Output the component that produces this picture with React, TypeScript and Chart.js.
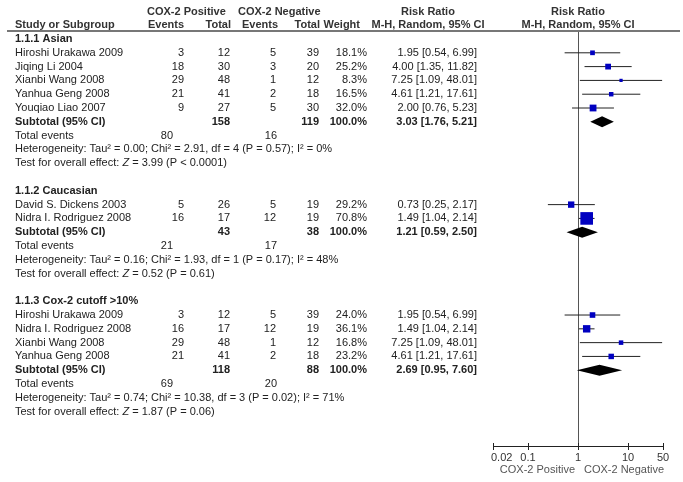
import { useEffect, useRef } from 'react';
import { Chart, registerables } from 'chart.js';

Chart.register(...registerables);

// ---------- data ----------
const groupTitles = ['1.1.1 Asian', '1.1.2 Caucasian', '1.1.3 Cox-2 cutoff >10%'];

const studyGroup = [0, 0, 0, 0, 0, 1, 1, 2, 2, 2, 2];
const studyNames = [
  'Hiroshi Urakawa 2009', 'Jiqing Li 2004', 'Xianbi Wang 2008', 'Yanhua Geng 2008', 'Youqiao Liao 2007',
  'David S. Dickens 2003', 'Nidra I. Rodriguez 2008',
  'Hiroshi Urakawa 2009', 'Nidra I. Rodriguez 2008', 'Xianbi Wang 2008', 'Yanhua Geng 2008',
];
const posEvents = [3, 18, 29, 21, 9, 5, 16, 3, 16, 29, 21];
const posTotal = [12, 30, 48, 41, 27, 26, 17, 12, 17, 48, 41];
const negEvents = [5, 3, 1, 2, 5, 5, 12, 5, 12, 1, 2];
const negTotal = [39, 20, 12, 18, 30, 19, 19, 39, 19, 12, 18];
const weights = [18.1, 25.2, 8.3, 16.5, 32.0, 29.2, 70.8, 24.0, 36.1, 16.8, 23.2];
const rr = [1.95, 4.0, 7.25, 4.61, 2.0, 0.73, 1.49, 1.95, 1.49, 7.25, 4.61];
const rrLow = [0.54, 1.35, 1.09, 1.21, 0.76, 0.25, 1.04, 0.54, 1.04, 1.09, 1.21];
const rrHigh = [6.99, 11.82, 48.01, 17.61, 5.23, 2.17, 2.14, 6.99, 2.14, 48.01, 17.61];

const subPosTotal = [158, 43, 118];
const subNegTotal = [119, 38, 88];
const subRR = [3.03, 1.21, 2.69];
const subLow = [1.76, 0.59, 0.95];
const subHigh = [5.21, 2.5, 7.6];
const evPos = [80, 21, 69];
const evNeg = [16, 17, 20];
const hetTau2 = ['0.00', '0.16', '0.74'];
const hetChi2 = ['2.91', '1.93', '10.38'];
const hetDf = [4, 1, 3];
const hetP = ['0.57', '0.17', '0.02'];
const hetI2 = ['0%', '48%', '71%'];
const testZ = ['3.99', '0.52', '1.87'];
const testP = ['P < 0.0001', 'P = 0.61', 'P = 0.06'];

const axisTicks = [0.02, 0.1, 1, 10, 50];
const axisTickLabels = ['0.02', '0.1', '1', '10', '50'];

// ---------- row layout ----------
type Row = { kind: string; idx: number; row: number };
function buildRows(): Row[] {
  const rows: Row[] = [];
  let r = 0;
  groupTitles.forEach((_, g) => {
    rows.push({ kind: 'title', idx: g, row: r++ });
    studyGroup.forEach((sg, i) => {
      if (sg === g) rows.push({ kind: 'study', idx: i, row: r++ });
    });
    rows.push({ kind: 'subtotal', idx: g, row: r++ });
    rows.push({ kind: 'events', idx: g, row: r++ });
    rows.push({ kind: 'het', idx: g, row: r++ });
    rows.push({ kind: 'test', idx: g, row: r++ });
    r++;
  });
  return rows;
}

const FONT = '"Liberation Sans", Arial, sans-serif';

export default function App() {
  const ref = useRef<HTMLCanvasElement | null>(null);

  useEffect(() => {
    document.body.style.margin = '0';
    const canvas = ref.current;
    if (!canvas) return;
    const rows = buildRows();
    const studyRows = rows.filter((r) => r.kind === 'study');
    const subRows = rows.filter((r) => r.kind === 'subtotal');

    const whiskerSets: any[] = studyRows.map((r) => ({
      label: 'ci' + r.idx,
      data: [
        { x: rrLow[r.idx], y: r.row },
        { x: rrHigh[r.idx], y: r.row },
      ],
      showLine: true,
      borderColor: '#222',
      borderWidth: 1,
      pointRadius: 0,
      order: 1,
      clip: false,
    }));

    const tablePlugin = {
      id: 'forestTable',
      beforeDatasetsDraw(chart: any) {
        const ctx = chart.ctx as CanvasRenderingContext2D;
        const xs = chart.scales.x;
        const area = chart.chartArea;
        const x1 = Math.round(xs.getPixelForValue(1)) + 0.5;
        ctx.save();
        ctx.strokeStyle = '#555';
        ctx.lineWidth = 1;
        ctx.beginPath();
        ctx.moveTo(x1, area.top);
        ctx.lineTo(x1, area.bottom);
        ctx.stroke();
        ctx.restore();
      },
      afterDatasetsDraw(chart: any) {
        const ctx = chart.ctx as CanvasRenderingContext2D;
        const xs = chart.scales.x;
        const ys = chart.scales.y;
        ctx.save();
        ctx.fillStyle = '#000';
        subRows.forEach((r) => {
          const g = r.idx;
          const y = ys.getPixelForValue(r.row);
          const xl = xs.getPixelForValue(subLow[g]);
          const xm = xs.getPixelForValue(subRR[g]);
          const xh = xs.getPixelForValue(subHigh[g]);
          ctx.beginPath();
          ctx.moveTo(xl, y);
          ctx.lineTo(xm, y - 5.5);
          ctx.lineTo(xh, y);
          ctx.lineTo(xm, y + 5.5);
          ctx.closePath();
          ctx.fill();
        });
        ctx.restore();
      },
      afterDraw(chart: any) {
        const ctx = chart.ctx as CanvasRenderingContext2D;
        const xs = chart.scales.x;
        const ys = chart.scales.y;
        const area = chart.chartArea;
        const txt = (s: string, x: number, y: number, align: CanvasTextAlign, bold = false, color = '#222', italic = false) => {
          ctx.font = `${italic ? 'italic ' : ''}${bold ? 'bold ' : ''}11px ${FONT}`;
          ctx.fillStyle = color;
          ctx.textAlign = align;
          ctx.textBaseline = 'middle';
          ctx.fillText(s, x, y);
          return ctx.measureText(s).width;
        };
        ctx.save();
        const xOne = xs.getPixelForValue(1);
        // headers
        const h1 = ys.getPixelForValue(-1.97);
        const h2 = ys.getPixelForValue(-1.0);
        txt('COX-2 Positive', 147, h1, 'left', true, '#333');
        txt('COX-2 Negative', 238, h1, 'left', true, '#333');
        txt('Risk Ratio', 428, h1, 'center', true, '#333');
        txt('Risk Ratio', xOne, h1, 'center', true, '#333');
        txt('Study or Subgroup', 15, h2, 'left', true, '#333');
        txt('Events', 184, h2, 'right', true, '#333');
        txt('Total', 231, h2, 'right', true, '#333');
        txt('Events', 278, h2, 'right', true, '#333');
        txt('Total', 320, h2, 'right', true, '#333');
        txt('Weight', 360, h2, 'right', true, '#333');
        txt('M-H, Random, 95% CI', 428, h2, 'center', true, '#333');
        txt('M-H, Random, 95% CI', xOne, h2, 'center', true, '#333');
        // header rule
        ctx.fillStyle = '#777';
        ctx.fillRect(7, area.top - 1, 673, 2);

        rows.forEach((r) => {
          const y = ys.getPixelForValue(r.row);
          const i = r.idx;
          if (r.kind === 'title') {
            txt(groupTitles[i], 15, y, 'left', true);
          } else if (r.kind === 'study') {
            txt(studyNames[i], 15, y, 'left');
            txt(String(posEvents[i]), 184, y, 'right');
            txt(String(posTotal[i]), 230, y, 'right');
            txt(String(negEvents[i]), 276, y, 'right');
            txt(String(negTotal[i]), 319, y, 'right');
            txt(weights[i].toFixed(1) + '%', 367, y, 'right');
            txt(`${rr[i].toFixed(2)} [${rrLow[i].toFixed(2)}, ${rrHigh[i].toFixed(2)}]`, 477, y, 'right');
          } else if (r.kind === 'subtotal') {
            txt('Subtotal (95% CI)', 15, y, 'left', true);
            txt(String(subPosTotal[i]), 230, y, 'right', true);
            txt(String(subNegTotal[i]), 319, y, 'right', true);
            txt('100.0%', 367, y, 'right', true);
            txt(`${subRR[i].toFixed(2)} [${subLow[i].toFixed(2)}, ${subHigh[i].toFixed(2)}]`, 477, y, 'right', true);
          } else if (r.kind === 'events') {
            txt('Total events', 15, y, 'left');
            txt(String(evPos[i]), 173, y, 'right');
            txt(String(evNeg[i]), 277, y, 'right');
          } else if (r.kind === 'het') {
            txt(`Heterogeneity: Tau\u00b2 = ${hetTau2[i]}; Chi\u00b2 = ${hetChi2[i]}, df = ${hetDf[i]} (P = ${hetP[i]}); I\u00b2 = ${hetI2[i]}`, 15, y, 'left');
          } else if (r.kind === 'test') {
            let x = 15;
            x += txt('Test for overall effect: ', x, y, 'left');
            x += txt('Z', x, y, 'left', false, '#222', true);
            txt(` = ${testZ[i]} (${testP[i]})`, x, y, 'left');
          }
        });

        // x axis
        const ay = area.bottom + 0.5;
        const xa = xs.getPixelForValue(axisTicks[0]);
        const xb = xs.getPixelForValue(axisTicks[axisTicks.length - 1]);
        ctx.strokeStyle = '#222';
        ctx.lineWidth = 1;
        ctx.beginPath();
        ctx.moveTo(xa, ay);
        ctx.lineTo(xb, ay);
        axisTicks.forEach((t) => {
          const px = Math.round(xs.getPixelForValue(t)) + 0.5;
          ctx.moveTo(px, ay - 3.5);
          ctx.lineTo(px, ay + 3.5);
        });
        ctx.stroke();
        axisTicks.forEach((t, k) => {
          const px = xs.getPixelForValue(t);
          if (k === 0) txt(axisTickLabels[k], px - 2, ay + 11, 'left', false, '#333');
          else txt(axisTickLabels[k], px, ay + 11, 'center', false, '#333');
        });
        txt('COX-2 Positive', xOne - 3, ay + 23, 'right', false, '#555');
        txt('COX-2 Negative', xOne + 6, ay + 23, 'left', false, '#555');
        ctx.restore();
      },
    };

    const chart = new Chart(canvas, {
      type: 'scatter',
      data: {
        datasets: [
          {
            label: 'studies',
            data: studyRows.map((r) => ({ x: rr[r.idx], y: r.row })),
            pointStyle: 'rect',
            pointRadius: studyRows.map((r) => (2 + weights[r.idx] * 0.15) / Math.SQRT2),
            pointBackgroundColor: '#0000c0',
            pointBorderWidth: 0,
            showLine: false,
            order: 0,
          } as any,
          ...whiskerSets,
        ],
      },
      options: {
        animation: false,
        responsive: false,
        devicePixelRatio: 1,
        layout: { padding: { left: 493, right: 20, top: 31, bottom: 36 } },
        plugins: { legend: { display: false }, tooltip: { enabled: false } },
        events: [],
        scales: {
          x: { type: 'logarithmic', min: 0.02, max: 50, display: false },
          y: { type: 'linear', min: -0.58, max: 29.49, reverse: true, display: false },
        },
      },
      plugins: [tablePlugin],
    });
    return () => chart.destroy();
  }, []);

  return <canvas ref={ref} width={683} height={482} style={{ display: 'block' }} />;
}
